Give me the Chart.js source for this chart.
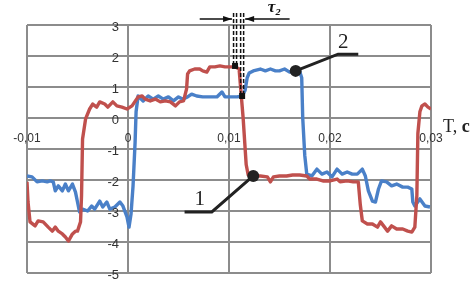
<!DOCTYPE html>
<html>
<head>
<meta charset="utf-8">
<script src="https://cdn.jsdelivr.net/npm/chart.js@4.4.1/dist/chart.umd.min.js"></script>
<style>
  html, body { margin: 0; padding: 0; background: #fff; }
  #wrap { width: 473px; height: 289px; position: relative; }
</style>
</head>
<body>
<div id="wrap"><canvas id="chart"></canvas></div>
<script>
// ===== data (time in seconds, signal in relative units) =====
const redX = [-0.0100, -0.0099, -0.0097, -0.0092, -0.0089, -0.0084, -0.0079, -0.0075, -0.0072, -0.0069,
  -0.0065, -0.0062, -0.0059, -0.0055, -0.0052, -0.0050, -0.0047, -0.0046, -0.0045, -0.0042,
  -0.0038, -0.0035, -0.0031, -0.0028, -0.0023, -0.0020, -0.0015, -0.0011, -0.0006, -0.0001,
  0.0004, 0.0010, 0.0014, 0.0017, 0.0022, 0.0027, 0.0032, 0.0037, 0.0042, 0.0047,
  0.0051, 0.0055, 0.0058, 0.0059, 0.0061, 0.0066, 0.0071, 0.0074, 0.0078, 0.0081,
  0.0086, 0.0091, 0.0096, 0.0101, 0.0106, 0.0110, 0.0114, 0.0117, 0.0119, 0.0124,
  0.0131, 0.0138, 0.0141, 0.0144, 0.0150, 0.0157, 0.0163, 0.0170, 0.0177, 0.0180,
  0.0187, 0.0193, 0.0200, 0.0207, 0.0210, 0.0217, 0.0223, 0.0228, 0.0230, 0.0232,
  0.0237, 0.0242, 0.0247, 0.0250, 0.0254, 0.0257, 0.0261, 0.0266, 0.0272, 0.0277,
  0.0281, 0.0284, 0.0286, 0.0287, 0.0289, 0.0291, 0.0294, 0.0297, 0.0300];
const redY = [-2.06, -2.71, -3.35, -3.48, -3.32, -3.35, -3.52, -3.65, -3.52, -3.65,
  -3.74, -3.84, -3.97, -3.74, -3.65, -3.65, -3.35, -2.5, -0.68, -0.03,
  0.29, 0.45, 0.35, 0.52, 0.45, 0.35, 0.52, 0.39, 0.35, 0.29,
  0.39, 0.68, 0.71, 0.61, 0.55, 0.61, 0.52, 0.55, 0.52, 0.39,
  0.52, 0.55, 0.94, 1.42, 1.52, 1.58, 1.58, 1.52, 1.48, 1.65,
  1.65, 1.68, 1.65, 1.65, 1.65, 1.58, 0.0, -1.5, -1.84, -1.87,
  -1.87, -1.90, -2.06, -1.90, -1.87, -1.87, -1.84, -1.84, -1.87, -1.97,
  -1.97, -2.03, -2.03, -1.97, -2.06, -2.03, -2.06, -2.06, -2.8, -3.32,
  -3.42, -3.42, -3.52, -3.35, -3.52, -3.65, -3.48, -3.58, -3.58, -3.65,
  -3.68, -3.52, -2.5, -0.5, 0.2, 0.39, 0.45, 0.35, 0.29];

const blueX = [-0.0100, -0.0095, -0.0090, -0.0085, -0.0080, -0.0077, -0.0074, -0.0072, -0.0069, -0.0065,
  -0.0062, -0.0059, -0.0055, -0.0052, -0.0050, -0.0048, -0.0045, -0.0040, -0.0036, -0.0033,
  -0.0028, -0.0025, -0.0021, -0.0018, -0.0013, -0.0008, -0.0005, -0.0001, 0.0001, 0.0003,
  0.0005, 0.0007, 0.0008, 0.0010, 0.0015, 0.0020, 0.0025, 0.0030, 0.0035, 0.0040,
  0.0045, 0.0050, 0.0054, 0.0059, 0.0063, 0.0068, 0.0074, 0.0081, 0.0088, 0.0093,
  0.0096, 0.0103, 0.0108, 0.0113, 0.0116, 0.0118, 0.0120, 0.0124, 0.0131, 0.0136,
  0.0141, 0.0146, 0.0150, 0.0155, 0.0160, 0.0165, 0.0170, 0.0172, 0.0173, 0.0175,
  0.0177, 0.0182, 0.0187, 0.0192, 0.0197, 0.0202, 0.0207, 0.0212, 0.0217, 0.0222,
  0.0227, 0.0232, 0.0235, 0.0238, 0.0242, 0.0245, 0.0248, 0.0251, 0.0256, 0.0261,
  0.0266, 0.0272, 0.0277, 0.0281, 0.0282, 0.0284, 0.0289, 0.0294, 0.0299];
const blueY = [-1.87, -1.90, -2.06, -2.03, -2.06, -2.03, -2.06, -2.35, -2.19, -2.35,
  -2.13, -2.35, -2.13, -2.39, -2.71, -3.03, -2.94, -3.00, -2.84, -2.94,
  -2.68, -2.87, -2.71, -2.94, -2.87, -2.71, -2.84, -3.19, -3.52, -3.10,
  -2.19, -0.8, 0.2, 0.71, 0.55, 0.71, 0.61, 0.71, 0.61, 0.68,
  0.55, 0.68, 0.61, 0.68, 0.77, 0.71, 0.68, 0.68, 0.68, 0.84,
  0.68, 0.68, 0.68, 0.71, 0.9, 1.3, 1.45, 1.52, 1.58, 1.52,
  1.58, 1.52, 1.52, 1.58, 1.48, 1.52, 1.5, 1.3, 0.0, -1.2,
  -1.81, -1.87, -1.65, -1.81, -1.74, -1.90, -1.65, -1.81, -1.74, -1.81,
  -1.81, -1.65, -1.87, -2.35, -2.68, -2.71, -2.29, -2.03, -2.06, -2.19,
  -2.13, -2.23, -2.23, -2.29, -2.71, -2.84, -2.61, -2.84, -2.87];

const xTickValues = [-0.01, 0, 0.01, 0.02, 0.03];
const xTickLabels = ['-0,01', '0', '0,01', '0,02', '0,03'];
const yTickValues = [3, 2, 1, 0, -1, -2, -3, -4, -5];
const yTickLabels = ['3', '2', '1', '0', '-1', '-2', '-3', '-4', '-5'];

// annotation anchors, in data units
const mark1 = { dot: [0.0124, -1.87], elbow: [0.0083, -3.03], end: [0.0056, -3.03], text: [0.0071, -2.62], label: '1' };
const mark2 = { dot: [0.0166, 1.52], elbow: [0.0208, 2.06], end: [0.0228, 2.06], text: [0.0213, 2.42], label: '2' };
const tauLines = [[0.0106, 3.39, 1.68], [0.0113, 3.39, 0.71]];
const tauArrowY = 3.19;

const GRID = '#8c8c8c';
const RED = '#c0504d';
const BLUE = '#4a80c8';

function toXY(xs, ys) { return xs.map((x, i) => ({ x, y: ys[i] })); }

const annotations = {
  id: 'annotations',
  afterDraw(chart) {
    const { ctx, scales: { x, y } } = chart;
    const px = v => x.getPixelForValue(v);
    const py = v => y.getPixelForValue(v);
    ctx.save();

    // tick labels: y left of the x = 0 axis, x under the y = 0 axis
    ctx.fillStyle = '#333';
    ctx.font = '13px "Liberation Sans"';
    ctx.textAlign = 'right';
    ctx.textBaseline = 'middle';
    yTickValues.forEach((v, i) => ctx.fillText(yTickLabels[i], px(0) - 9, py(v) + 2));
    ctx.font = '12px "Liberation Sans"';
    ctx.textAlign = 'center';
    xTickValues.forEach((v, i) => ctx.fillText(xTickLabels[i], px(v), py(0) + 21));

    // tau dashed markers
    ctx.strokeStyle = '#111';
    ctx.lineWidth = 1.5;
    ctx.setLineDash([4, 2]);
    tauLines.forEach(([xv, y0, y1]) => {
      [-1.5, 1.5].forEach(off => {
        ctx.beginPath();
        ctx.moveTo(px(xv) + off, py(y0));
        ctx.lineTo(px(xv) + off, py(y1));
        ctx.stroke();
      });
      ctx.fillStyle = '#111';
      ctx.fillRect(px(xv) - 3, py(y1) - 3, 6, 6);
    });
    ctx.setLineDash([]);

    // arrows
    const ay = py(tauArrowY);
    const aL = px(tauLines[0][0]) - 3, aR = px(tauLines[1][0]) + 3;
    ctx.lineWidth = 1.5;
    ctx.beginPath();
    ctx.moveTo(px(0.0071), ay); ctx.lineTo(aL, ay);
    ctx.moveTo(aR, ay); ctx.lineTo(px(0.0160), ay);
    ctx.stroke();
    ctx.beginPath();
    ctx.moveTo(aL, ay); ctx.lineTo(aL - 9, ay - 3); ctx.lineTo(aL - 9, ay + 3); ctx.closePath();
    ctx.moveTo(aR, ay); ctx.lineTo(aR + 9, ay - 3); ctx.lineTo(aR + 9, ay + 3); ctx.closePath();
    ctx.fill();

    ctx.font = 'italic bold 17px "Liberation Serif"';
    ctx.textAlign = 'center';
    ctx.textBaseline = 'middle';
    ctx.fillText('τ₂', px(0.0145), py(3.55));

    // numbered leaders
    [mark1, mark2].forEach(m => {
      ctx.strokeStyle = '#222';
      ctx.lineWidth = 3;
      ctx.beginPath();
      ctx.moveTo(px(m.dot[0]), py(m.dot[1]));
      ctx.lineTo(px(m.elbow[0]), py(m.elbow[1]));
      ctx.lineTo(px(m.end[0]), py(m.end[1]));
      ctx.stroke();
      ctx.fillStyle = '#222';
      ctx.beginPath();
      ctx.arc(px(m.dot[0]), py(m.dot[1]), 6, 0, Math.PI * 2);
      ctx.fill();
      ctx.font = '21px "Liberation Serif"';
      ctx.fillText(m.label, px(m.text[0]), py(m.text[1]));
    });

    // axis title
    ctx.fillStyle = '#222';
    ctx.textAlign = 'left';
    ctx.textBaseline = 'alphabetic';
    ctx.font = '18px "Liberation Serif"';
    const tx = px(0.0312), ty = py(-0.45);
    ctx.fillText('T, ', tx, ty);
    const w = ctx.measureText('T, ').width;
    ctx.font = 'bold 18px "Liberation Serif"';
    ctx.fillText('c', tx + w, ty);
    ctx.restore();
  }
};

new Chart(document.getElementById('chart'), {
  type: 'scatter',
  data: {
    datasets: [
      { label: '1', data: toXY(redX, redY), showLine: true, borderColor: RED, borderWidth: 3.4, pointRadius: 0, tension: 0, borderJoinStyle: 'round' },
      { label: '2', data: toXY(blueX, blueY), showLine: true, borderColor: BLUE, borderWidth: 3.4, pointRadius: 0, tension: 0, borderJoinStyle: 'round' }
    ]
  },
  options: {
    responsive: true,
    maintainAspectRatio: false,
    animation: false,
    layout: { padding: { left: 27, top: 25, right: 42, bottom: 16 } },
    plugins: { legend: { display: false }, tooltip: { enabled: false } },
    scales: {
      x: {
        type: 'linear', position: { y: 0 }, min: -0.01, max: 0.03,
        afterBuildTicks: s => { s.ticks = xTickValues.map(v => ({ value: v })); },
        grid: { color: GRID, lineWidth: 2, drawTicks: false },
        border: { color: GRID, width: 2 },
        ticks: { display: false }
      },
      y: {
        type: 'linear', position: { x: 0 }, min: -5, max: 3,
        afterBuildTicks: s => { s.ticks = yTickValues.map(v => ({ value: v })); },
        grid: { color: GRID, lineWidth: 2, drawTicks: false },
        border: { color: GRID, width: 2 },
        ticks: { display: false }
      }
    }
  },
  plugins: [annotations]
});
</script>
</body>
</html>
